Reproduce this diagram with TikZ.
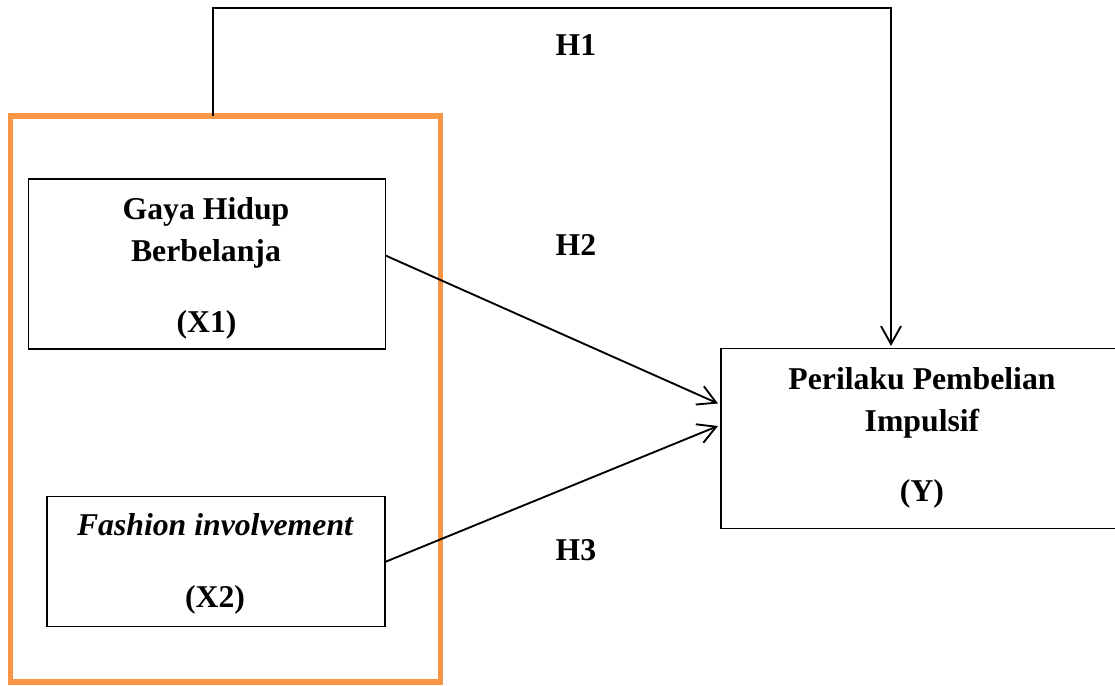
\documentclass[tikz,border=0pt]{standalone}
\usepackage{fontspec}
\setmainfont{Liberation Serif}
\usetikzlibrary{arrows.meta}
\definecolor{frameorange}{HTML}{F79646}
\begin{document}
\begin{tikzpicture}[x=0.75pt,y=-0.75pt,
  box/.style={draw=black,line width=0.8pt,rectangle,inner sep=0pt},
  txt/.style={font=\fontsize{23.8pt}{28pt}\selectfont\bfseries,anchor=base,inner sep=0pt},
  conn/.style={line width=1.4pt,-{Straight Barb[length=13.5pt,width=15pt,line width=1.4pt]}}]
\useasboundingbox (0,0) rectangle (1115,686);
% orange frame
\node[draw=frameorange,line width=3.8pt,rectangle,inner sep=0pt,minimum width=430*0.75pt,minimum height=566*0.75pt] (frame) at (225.5,399) {};
% boxes
\node[box,minimum width=357*0.75pt,minimum height=170*0.75pt] (x1) at (207,264) {};
\node[box,minimum width=338*0.75pt,minimum height=130*0.75pt] (x2) at (216,561.5) {};
\node[box,minimum width=397*0.75pt,minimum height=180*0.75pt] (y) at (919.5,438.3) {};
% texts
\node[txt] (t1a) at (206,219) {Gaya Hidup};
\node[txt] (t1b) at (206,261) {Berbelanja};
\node[txt] (t1c) at (206.5,332) {(X1)};
\node[txt] (t2a) at (215,535) {\itshape Fashion involvement};
\node[txt] (t2b) at (215,607) {(X2)};
\node[txt] (tya) at (922,389.5) {Perilaku Pembelian};
\node[txt] (tyb) at (922,431) {Impulsif};
\node[txt] (tyc) at (922,501.5) {(Y)};
\node[txt] (h1) at (576,55) {H1};
\node[txt] (h2) at (576,255) {H2};
\node[txt] (h3) at (576,560) {H3};
% connectors
\coordinate (s1) at (213,116);
\coordinate (c1) at (213,8);
\coordinate (c2) at (891,8);
\coordinate (e1) at (891,346);
\draw[conn] (s1) -- (c1) -- (c2) -- (e1);
\coordinate (s2) at (385.5,255.5);
\coordinate (e2) at (718,403.5);
\draw[conn] (s2) -- (e2);
\coordinate (s3) at (385,562);
\coordinate (e3) at (718,426);
\draw[conn] (s3) -- (e3);
\end{tikzpicture}
\end{document}
